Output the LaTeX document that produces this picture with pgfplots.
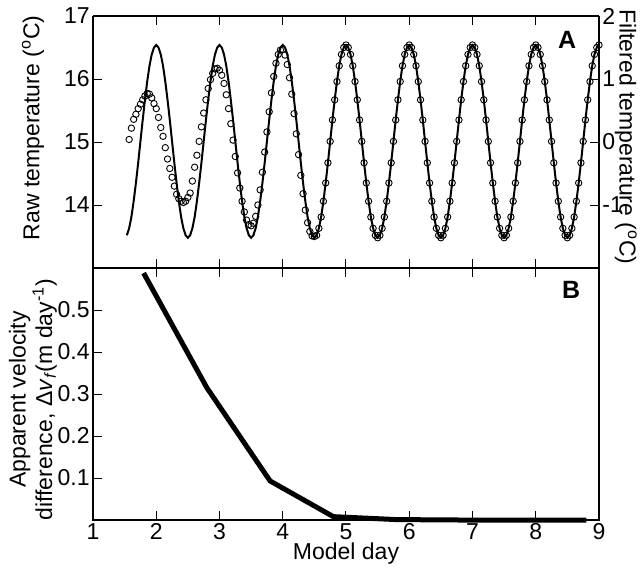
\documentclass[border=0pt]{standalone}
\usepackage{fontspec}
\setmainfont{Liberation Sans}
\usepackage{pgfplots}
\pgfplotsset{compat=1.18}
\usepackage{pgfplotstable}

% filtered temperature (deg C), model day
\pgfplotstableread[row sep=\\]{
x f \\
1.5357 -1.48 \\ 1.5714 -1.37 \\ 1.6071 -1.19 \\ 1.6429 -0.94 \\ 1.6786 -0.65 \\ 1.7143 -0.33 \\ 1.75 0.01 \\ 1.7857 0.35 \\ 1.8214 0.67 \\ 1.8571 0.96 \\ 1.8929 1.21 \\ 1.9286 1.39 \\ 1.9643 1.50 \\
2.0 1.54 \\ 2.0357 1.50 \\ 2.0714 1.39 \\ 2.1071 1.21 \\ 2.1429 0.96 \\ 2.1786 0.67 \\ 2.2143 0.35 \\ 2.25 0.01 \\ 2.2857 -0.33 \\ 2.3214 -0.65 \\ 2.3571 -0.94 \\ 2.3929 -1.19 \\ 2.4286 -1.37 \\ 2.4643 -1.48 \\ 2.5 -1.52 \\ 2.5357 -1.48 \\ 2.5714 -1.37 \\ 2.6071 -1.19 \\ 2.6429 -0.94 \\ 2.6786 -0.65 \\ 2.7143 -0.33 \\ 2.75 0.01 \\ 2.7857 0.35 \\ 2.8214 0.67 \\ 2.8571 0.96 \\ 2.8929 1.21 \\ 2.9286 1.39 \\ 2.9643 1.50 \\
3.0 1.54 \\ 3.0357 1.50 \\ 3.0714 1.39 \\ 3.1071 1.21 \\ 3.1429 0.96 \\ 3.1786 0.67 \\ 3.2143 0.35 \\ 3.25 0.01 \\ 3.2857 -0.33 \\ 3.3214 -0.65 \\ 3.3571 -0.94 \\ 3.3929 -1.19 \\ 3.4286 -1.37 \\ 3.4643 -1.48 \\ 3.5 -1.52 \\ 3.5357 -1.48 \\ 3.5714 -1.37 \\ 3.6071 -1.19 \\ 3.6429 -0.94 \\ 3.6786 -0.65 \\ 3.7143 -0.33 \\ 3.75 0.01 \\ 3.7857 0.35 \\ 3.8214 0.67 \\ 3.8571 0.96 \\ 3.8929 1.21 \\ 3.9286 1.39 \\ 3.9643 1.50 \\
4.0 1.54 \\ 4.0357 1.50 \\ 4.0714 1.39 \\ 4.1071 1.21 \\ 4.1429 0.96 \\ 4.1786 0.67 \\ 4.2143 0.35 \\ 4.25 0.01 \\ 4.2857 -0.33 \\ 4.3214 -0.65 \\ 4.3571 -0.94 \\ 4.3929 -1.19 \\ 4.4286 -1.37 \\ 4.4643 -1.48 \\ 4.5 -1.52 \\ 4.5357 -1.48 \\ 4.5714 -1.37 \\ 4.6071 -1.19 \\ 4.6429 -0.94 \\ 4.6786 -0.65 \\ 4.7143 -0.33 \\ 4.75 0.01 \\ 4.7857 0.35 \\ 4.8214 0.67 \\ 4.8571 0.96 \\ 4.8929 1.21 \\ 4.9286 1.39 \\ 4.9643 1.50 \\
5.0 1.54 \\ 5.0357 1.50 \\ 5.0714 1.39 \\ 5.1071 1.21 \\ 5.1429 0.96 \\ 5.1786 0.67 \\ 5.2143 0.35 \\ 5.25 0.01 \\ 5.2857 -0.33 \\ 5.3214 -0.65 \\ 5.3571 -0.94 \\ 5.3929 -1.19 \\ 5.4286 -1.37 \\ 5.4643 -1.48 \\ 5.5 -1.52 \\ 5.5357 -1.48 \\ 5.5714 -1.37 \\ 5.6071 -1.19 \\ 5.6429 -0.94 \\ 5.6786 -0.65 \\ 5.7143 -0.33 \\ 5.75 0.01 \\ 5.7857 0.35 \\ 5.8214 0.67 \\ 5.8571 0.96 \\ 5.8929 1.21 \\ 5.9286 1.39 \\ 5.9643 1.50 \\
6.0 1.54 \\ 6.0357 1.50 \\ 6.0714 1.39 \\ 6.1071 1.21 \\ 6.1429 0.96 \\ 6.1786 0.67 \\ 6.2143 0.35 \\ 6.25 0.01 \\ 6.2857 -0.33 \\ 6.3214 -0.65 \\ 6.3571 -0.94 \\ 6.3929 -1.19 \\ 6.4286 -1.37 \\ 6.4643 -1.48 \\ 6.5 -1.52 \\ 6.5357 -1.48 \\ 6.5714 -1.37 \\ 6.6071 -1.19 \\ 6.6429 -0.94 \\ 6.6786 -0.65 \\ 6.7143 -0.33 \\ 6.75 0.01 \\ 6.7857 0.35 \\ 6.8214 0.67 \\ 6.8571 0.96 \\ 6.8929 1.21 \\ 6.9286 1.39 \\ 6.9643 1.50 \\
7.0 1.54 \\ 7.0357 1.50 \\ 7.0714 1.39 \\ 7.1071 1.21 \\ 7.1429 0.96 \\ 7.1786 0.67 \\ 7.2143 0.35 \\ 7.25 0.01 \\ 7.2857 -0.33 \\ 7.3214 -0.65 \\ 7.3571 -0.94 \\ 7.3929 -1.19 \\ 7.4286 -1.37 \\ 7.4643 -1.48 \\ 7.5 -1.52 \\ 7.5357 -1.48 \\ 7.5714 -1.37 \\ 7.6071 -1.19 \\ 7.6429 -0.94 \\ 7.6786 -0.65 \\ 7.7143 -0.33 \\ 7.75 0.01 \\ 7.7857 0.35 \\ 7.8214 0.67 \\ 7.8571 0.96 \\ 7.8929 1.21 \\ 7.9286 1.39 \\ 7.9643 1.50 \\
8.0 1.54 \\ 8.0357 1.50 \\ 8.0714 1.39 \\ 8.1071 1.21 \\ 8.1429 0.96 \\ 8.1786 0.67 \\ 8.2143 0.35 \\ 8.25 0.01 \\ 8.2857 -0.33 \\ 8.3214 -0.65 \\ 8.3571 -0.94 \\ 8.3929 -1.19 \\ 8.4286 -1.37 \\ 8.4643 -1.48 \\ 8.5 -1.52 \\ 8.5357 -1.48 \\ 8.5714 -1.37 \\ 8.6071 -1.19 \\ 8.6429 -0.94 \\ 8.6786 -0.65 \\ 8.7143 -0.33 \\ 8.75 0.01 \\ 8.7857 0.35 \\ 8.8214 0.67 \\ 8.8571 0.96 \\ 8.8929 1.21 \\ 8.9286 1.39 \\ 8.9643 1.50 \\
9.0 1.54 \\
}\filt

% raw temperature (deg C) during spin-up
\pgfplotstableread[row sep=\\]{
x t \\
1.5714 15.04 \\ 1.6071 15.22 \\ 1.6429 15.36 \\ 1.6786 15.44 \\ 1.7143 15.53 \\ 1.75 15.60 \\ 1.7857 15.67 \\ 1.8214 15.73 \\ 1.8571 15.77 \\ 1.8929 15.76 \\ 1.9286 15.70 \\ 1.9643 15.61 \\
2.0 15.53 \\ 2.0357 15.39 \\ 2.0714 15.23 \\ 2.1071 15.09 \\ 2.1429 14.91 \\ 2.1786 14.73 \\ 2.2143 14.58 \\ 2.25 14.44 \\ 2.2857 14.30 \\ 2.3214 14.17 \\ 2.3571 14.10 \\ 2.3929 14.06 \\ 2.4286 14.04 \\ 2.4643 14.06 \\ 2.5 14.12 \\ 2.5357 14.19 \\ 2.5714 14.38 \\ 2.6071 14.60 \\ 2.6429 14.79 \\ 2.6786 15.01 \\ 2.7143 15.24 \\ 2.75 15.46 \\ 2.7857 15.67 \\ 2.8214 15.85 \\ 2.8571 15.99 \\ 2.8929 16.09 \\ 2.9286 16.16 \\ 2.9643 16.17 \\
3.0 16.14 \\ 3.0357 16.06 \\ 3.0714 15.93 \\ 3.1071 15.75 \\ 3.1429 15.53 \\ 3.1786 15.29 \\ 3.2143 15.03 \\ 3.25 14.77 \\ 3.2857 14.51 \\ 3.3214 14.27 \\ 3.3571 14.06 \\ 3.3929 13.89 \\ 3.4286 13.76 \\ 3.4643 13.69 \\ 3.5 13.67 \\ 3.5357 13.71 \\ 3.5714 13.82 \\ 3.6071 14.00 \\ 3.6429 14.24 \\ 3.6786 14.52 \\ 3.7143 14.84 \\ 3.75 15.16 \\ 3.7857 15.48 \\ 3.8214 15.78 \\ 3.8571 16.04 \\ 3.8929 16.25 \\ 3.9286 16.39 \\ 3.9643 16.46 \\
4.0 16.47 \\ 4.0357 16.38 \\ 4.0714 16.23 \\ 4.1071 16.02 \\ 4.1429 15.76 \\ 4.1786 15.45 \\ 4.2143 15.13 \\ 4.25 14.80 \\ 4.2857 14.47 \\ 4.3214 14.18 \\ 4.3571 13.92 \\ 4.3929 13.72 \\ 4.4286 13.58 \\ 4.4643 13.51 \\ 4.5 13.50 \\
}\rawearly

\begin{document}
\begin{tikzpicture}[font=\fontsize{11.5}{13}\selectfont]
\pgfplotsset{
  every axis/.append style={
    scale only axis, width=253pt, height=126pt,
    xmin=1, xmax=9,
    tick align=inside, major tick length=4.5pt,
    /pgf/number format/assume math mode=true,
    tick label style={font=\fontsize{11.5}{13}\selectfont, inner sep=1.5pt},
    axis line style={line width=0.6pt},
    tick style={line width=0.5pt, black},
    xtick={1,2,3,4,5,6,7,8,9},
    clip=false,
  },
}
% ---------- panel B ----------
\begin{axis}[at={(0,0)}, anchor=south west,
  ymin=0, ymax=0.6, ytick={0.1,0.2,0.3,0.4,0.5},
  ytick pos=left,
  yticklabel style={/pgf/number format/fixed, /pgf/number format/precision=1}]
\addplot[black, line width=2.5pt] coordinates {
  (1.8,0.588) (2.8,0.315) (3.8,0.093) (4.8,0.008) (5.8,0.001) (6.8,0) (7.8,0) (8.8,0)};
\node[font=\fontsize{12.5}{13}\selectfont\bfseries] at (axis description cs:0.945,0.913) {B};
\node[inner sep=0pt] at (axis description cs:0.5,-0.135) {Model day};
\node[rotate=90, align=center, font=\fontsize{11.5}{11.5}\selectfont] at (axis description cs:-0.1186,0.478)
  {Apparent velocity\\difference, Δ\textit{v}\textsubscript{\textit{f}}(m day\textsuperscript{-1})};
\end{axis}
% ---------- panel A, raw ----------
\begin{axis}[at={(0,126pt)}, anchor=south west,
  ymin=13, ymax=17, ytick={14,15,16,17},
  axis y line*=left, xticklabels={}]
\addplot[only marks, mark=o, mark size=1.6pt, mark options={line width=0.45pt, black}]
  table[x=x, y=t] {\rawearly};
\node[rotate=90] at (axis description cs:-0.1186,0.556) {Raw temperature (\textsuperscript{o}C)};
\end{axis}
% ---------- panel A, filtered ----------
\begin{axis}[at={(0,126pt)}, anchor=south west,
  ymin=-2, ymax=2, ytick={-1,0,1,2},
  axis y line*=right, axis x line=none]
\addplot[black, line width=1pt] table[x=x, y=f] {\filt};
\addplot[only marks, mark=o, mark size=1.6pt, mark options={line width=0.45pt, black},
  restrict x to domain=4.52:9.1] table[x=x, y=f] {\filt};
\node[font=\fontsize{12.5}{13}\selectfont\bfseries] at (axis description cs:0.937,0.905) {A};
\node[rotate=-90, inner sep=0pt] at (axis description cs:1.053,0.52) {Filtered temperature (\textsuperscript{o}C)};
\end{axis}
\pgfresetboundingbox
\path[use as bounding box] (-46.5pt,-24.5pt) rectangle (274pt,260pt);
\end{tikzpicture}
\end{document}
